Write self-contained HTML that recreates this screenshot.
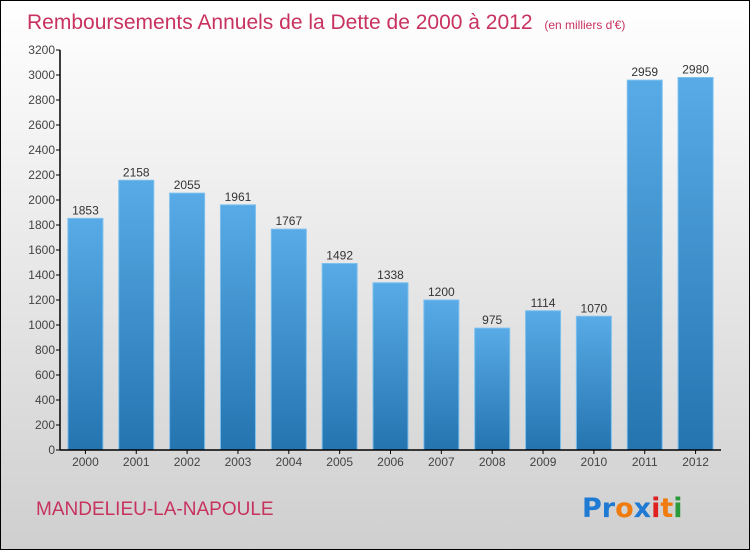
<!DOCTYPE html>
<html><head><meta charset="utf-8"><style>
body{margin:0}
#wrap{width:750px;height:550px;position:relative;box-sizing:border-box;border:1px solid #000;background:linear-gradient(#fff,#cfcfcf);font-family:"Liberation Sans",sans-serif;overflow:hidden}
</style></head><body>
<div id="wrap">
<svg id="chart" width="750" height="550" style="position:absolute;left:-1px;top:-1px">
<defs><linearGradient id="bg" x1="0" y1="0" x2="0" y2="1"><stop offset="0" stop-color="#58abe6"/><stop offset="1" stop-color="#2474b0"/></linearGradient></defs>
<text x="27" y="29" font-size="21" fill="#c8325f">Remboursements Annuels de la Dette de 2000 à 2012 <tspan font-size="12" dx="6">(en milliers d'€)</tspan></text>
<text x="36" y="515" font-size="19" fill="#c8325f">MANDELIEU-LA-NAPOULE</text>
<g font-size="27" font-weight="bold" font-family="'DejaVu Sans',sans-serif">
<text x="582" y="517"><tspan fill="#1e7ad2">Pr</tspan><tspan fill="#f07c10">o</tspan><tspan fill="#1e7ad2">x</tspan><tspan fill="#e02020">i</tspan><tspan fill="#f07c10">t</tspan><tspan fill="#2a9a3a">i</tspan></text></g>
</svg>
</div>
<script>
const categories=["2000","2001","2002","2003","2004","2005","2006","2007","2008","2009","2010","2011","2012"];
const values=[1853,2158,2055,1961,1767,1492,1338,1200,975,1114,1070,2959,2980];
const yTicks=[0,200,400,600,800,1000,1200,1400,1600,1800,2000,2200,2400,2600,2800,3000,3200];
const svg=document.getElementById('chart');const NS='http://www.w3.org/2000/svg';
const x0=60,x1=721,y0=450,y1=50,ymax=3200;
const band=(x1-x0)/categories.length;
const ys=v=>y0-(v/ymax)*(y0-y1);
function mk(t,a,txt){const e=document.createElementNS(NS,t);for(const k in a)e.setAttribute(k,a[k]);if(txt!=null)e.textContent=txt;svg.appendChild(e);return e;}
yTicks.forEach(t=>{
const l=mk('line',{x1:x0-4,x2:x0,y1:ys(t),y2:ys(t),stroke:'#000'});


const tx=mk('text',{x:x0-5,y:ys(t)+4,'text-anchor':'end','font-size':12,fill:'#444'},t);


});
categories.forEach((c,i)=>{
const cx=x0+(i+0.5)*band,w=35,v=values[i];
const r=mk('rect',{x:cx-w/2,y:ys(v),width:w,height:y0-ys(v),fill:'url(#bg)',stroke:'#7cc0ee','stroke-width':1});


const vl=mk('text',{x:cx,y:ys(v)-4,'text-anchor':'middle','font-size':12,fill:'#333'},v);


const xl=mk('text',{x:cx,y:y0+16,'text-anchor':'middle','font-size':12,fill:'#444'},c);


const tk=mk('line',{x1:cx,x2:cx,y1:y0,y2:y0+4,stroke:'#000'});


});
const ya=mk('line',{x1:x0,x2:x0,y1:y1,y2:y0,stroke:'#000','stroke-width':1.5});


const xa=mk('line',{x1:x0,x2:x1,y1:y0,y2:y0,stroke:'#000','stroke-width':1.5});


</script>
</body></html>
